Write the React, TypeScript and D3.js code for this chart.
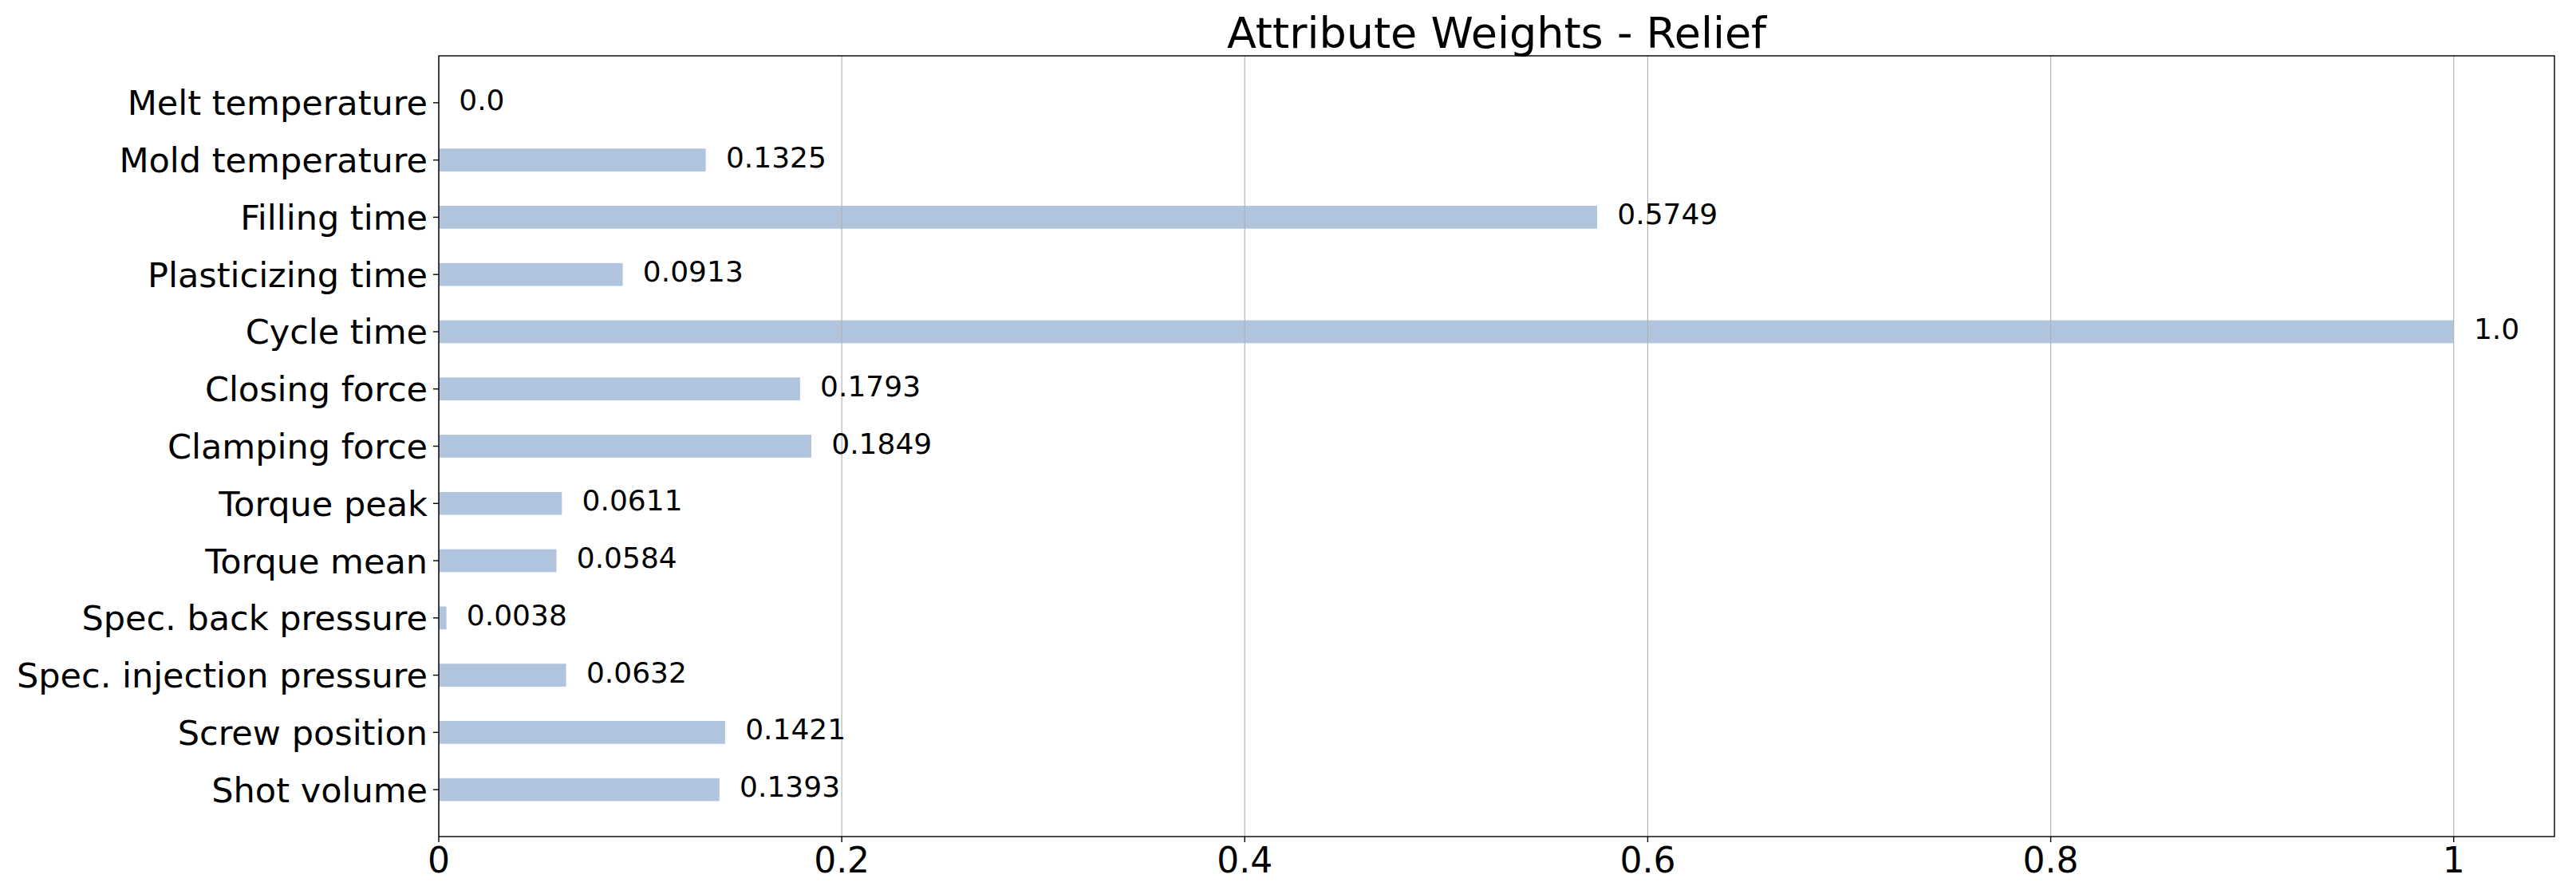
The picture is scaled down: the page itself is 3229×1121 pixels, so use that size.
import React from "react";
import * as d3 from "d3";

const categories = [
  "Shot volume",
  "Screw position",
  "Spec. injection pressure",
  "Spec. back pressure",
  "Torque mean",
  "Torque peak",
  "Clamping force",
  "Closing force",
  "Cycle time",
  "Plasticizing time",
  "Filling time",
  "Mold temperature",
  "Melt temperature",
];
const weights = [
  0.1393, 0.1421, 0.0632, 0.0038, 0.0584, 0.0611, 0.1849, 0.1793, 1.0, 0.0913,
  0.5749, 0.1325, 0.0,
];
const valueLabels = [
  "0.1393", "0.1421", "0.0632", "0.0038", "0.0584", "0.0611", "0.1849",
  "0.1793", "1.0", "0.0913", "0.5749", "0.1325", "0.0",
];
const xTicks = [0, 0.2, 0.4, 0.6, 0.8, 1];
const xTickLabels = ["0", "0.2", "0.4", "0.6", "0.8", "1"];
const title = "Attribute Weights - Relief";

const W = 3229;
const H = 1121;
const left = 550;
const right = 3202;
const top = 70;
const bottom = 1049;
const barWidth = 0.4;
const FONT = "'DejaVu Sans', sans-serif";

export default function App() {
  const x = d3.scaleLinear().domain([0, 1.05]).range([left, right]);
  const n = categories.length;
  const pad = (n - 1 + barWidth) * 0.05 + barWidth / 2;
  const y = d3.scaleLinear().domain([-pad, n - 1 + pad]).range([bottom, top]);
  const bh = Math.abs(y(barWidth) - y(0));

  return (
    <svg
      width={W}
      height={H}
      style={{ position: "fixed", left: 0, top: 0, background: "#fff" }}
      fontFamily={FONT}
    >
      <rect x={0} y={0} width={W} height={H} fill="#fff" />
      {weights.map((v, i) => (
        <rect
          key={"b" + i}
          x={x(0)}
          y={y(i) - bh / 2}
          width={Math.max(0, x(v) - x(0))}
          height={bh}
          fill="#B0C4DE"
        />
      ))}
      {xTicks.map((t, i) => (
        <line
          key={"g" + i}
          x1={x(t)}
          x2={x(t)}
          y1={top}
          y2={bottom}
          stroke="#b0b0b0"
          strokeWidth={1.1}
        />
      ))}
      {weights.map((v, i) => (
        <text
          key={"v" + i}
          x={x(v + 0.01)}
          y={y(i) + 9}
          fontSize={36}
          fill="#000"
        >
          {valueLabels[i]}
        </text>
      ))}
      <rect
        x={left}
        y={top}
        width={right - left}
        height={bottom - top}
        fill="none"
        stroke="#000"
        strokeWidth={1.4}
      />
      {categories.map((c, i) => (
        <g key={"y" + i}>
          <line x1={left - 7} x2={left} y1={y(i)} y2={y(i)} stroke="#000" strokeWidth={1.4} />
          <text
            x={left - 14}
            y={y(i) + 15.5}
            fontSize={43}
            textAnchor="end"
            fill="#000"
          >
            {c}
          </text>
        </g>
      ))}
      {xTicks.map((t, i) => (
        <g key={"x" + i}>
          <line x1={x(t)} x2={x(t)} y1={bottom} y2={bottom + 7} stroke="#000" strokeWidth={1.4} />
          <text x={x(t)} y={1094} fontSize={44} textAnchor="middle" fill="#000">
            {xTickLabels[i]}
          </text>
        </g>
      ))}
      <text
        x={(left + right) / 2}
        y={60}
        fontSize={54}
        textAnchor="middle"
        fill="#000"
      >
        {title}
      </text>
    </svg>
  );
}
